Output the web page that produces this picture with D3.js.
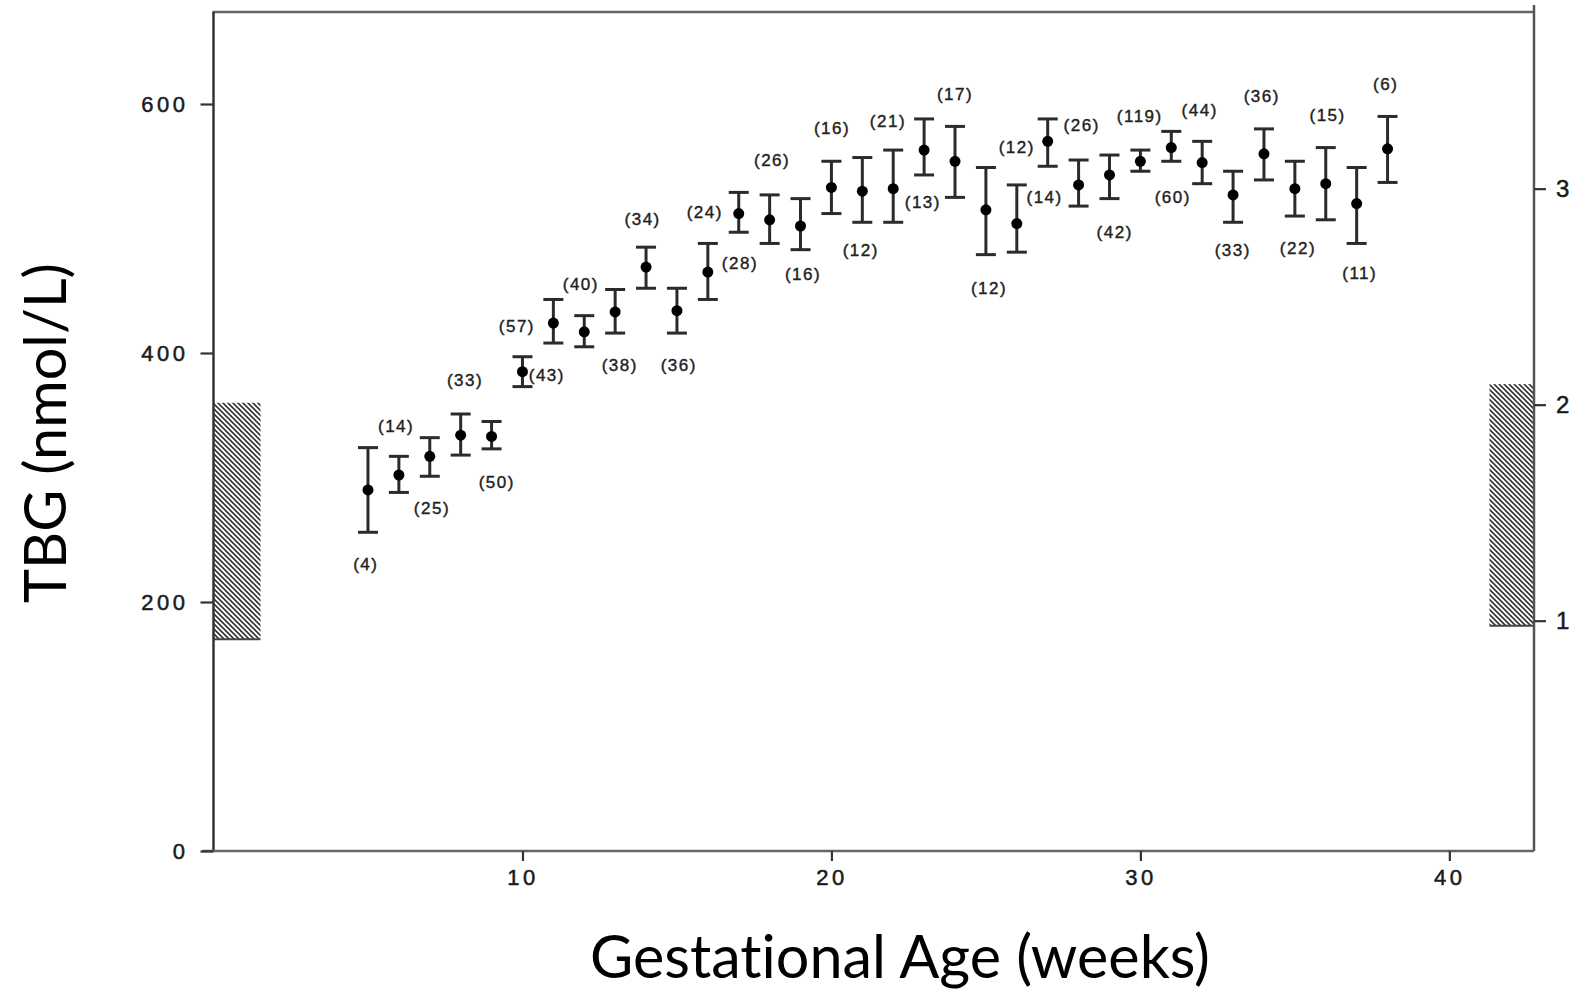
<!DOCTYPE html>
<html>
<head>
<meta charset="utf-8">
<script src="https://cdn.jsdelivr.net/npm/d3@7"></script>
<style>
  html, body { margin: 0; padding: 0; background: #fff; }
  svg { display: block; }
  text { font-variant-ligatures: none; font-feature-settings: "liga" 0; }
</style>
</head>
<body>
<svg id="chart" width="1575" height="991"></svg>
<script>
// ---- data ----
const weeks = [5, 6, 7, 8, 9, 10, 11, 12, 13, 14, 15, 16, 17, 18, 19, 20, 21, 22,
               23, 24, 25, 26, 27, 28, 29, 30, 31, 32, 33, 34, 35, 36, 37, 38];
const means = [290, 302, 317, 334, 333, 385, 424, 417, 433, 469, 434, 465, 512, 507, 502, 533, 530, 532,
               563, 554, 515, 504, 570, 535, 543, 554, 565, 553, 527, 560, 532, 536, 520, 564];
const upper = [324, 317, 332, 351, 345, 397, 443, 430, 451, 485, 452, 488, 529, 527, 524, 554, 557, 563,
               588, 582, 549, 535, 588, 555, 559, 563, 578, 570, 546, 580, 554, 565, 549, 590];
const lower = [256, 288, 301, 318, 323, 373, 408, 405, 416, 452, 416, 443, 497, 488, 483, 512, 505, 505,
               543, 525, 479, 481, 550, 518, 524, 546, 554, 536, 505, 539, 510, 507, 488, 537];

// sample-size annotations, anchored in data units (week, nmol/L)
const labelTexts  = ["(4)", "(14)", "(25)", "(33)", "(50)", "(43)", "(57)", "(40)", "(38)", "(34)", "(36)",
                     "(28)", "(24)", "(26)", "(16)", "(16)", "(12)", "(21)", "(13)", "(17)", "(12)", "(12)",
                     "(14)", "(26)", "(42)", "(119)", "(60)", "(44)", "(33)", "(36)", "(22)", "(15)", "(11)", "(6)"];
const labelWeeks  = [4.93, 5.91, 7.07, 8.14, 9.17, 10.79, 9.82, 11.89, 13.15, 13.89, 15.06,
                     17.04, 15.9, 18.08, 19.08, 20.02, 20.95, 21.83, 22.96, 24.0, 25.1, 26.0,
                     26.9, 28.1, 29.17, 29.98, 31.05, 31.92, 32.99, 33.93, 35.1, 36.06, 37.1, 37.94];
const labelValues = [230, 341, 275, 378, 296, 382, 421, 455, 390, 507, 390,
                     472, 513, 555, 463, 580, 482, 586, 521, 608, 452, 565,
                     525, 583, 497, 590, 525, 595, 482, 606, 484, 591, 464, 616];

const yTicks = [0, 200, 400, 600];
const xTicks = [10, 20, 30, 40];
const rightTicks = [1, 2, 3];
const rightTickNmol = [185, 532];      // nmol/L equivalent of right-axis 1 and 3
const refLow  = [170, 181];            // hatched reference ranges (non-pregnant), left and right
const refHigh = [360, 375];

const xTitle = "Gestational Age (weeks)";
const yTitle = "TBG (nmol/L)";

// ---- layout ----
const svg = d3.select("#chart");
const x = d3.scaleLinear().domain([0, 42.74]).range([213.5, 1534]);
const y = d3.scaleLinear().domain([0, 600]).range([851, 104]);
const yR = d3.scaleLinear().domain([1, 3]).range([y(rightTickNmol[0]), y(rightTickNmol[1])]);
const frameTop = 12;
const tickFont = "'Liberation Sans', Arial, sans-serif";
const ink = "#1a1a1a";

// hatch pattern
const defs = svg.append("defs");
const pat = defs.append("pattern")
  .attr("id", "hatch").attr("patternUnits", "userSpaceOnUse")
  .attr("width", 5).attr("height", 5);
pat.append("rect").attr("width", 5).attr("height", 5).attr("fill", "#fff");
pat.append("path").attr("d", "M0,0 L5,5 M-1,4 L1,6 M4,-1 L6,1")
  .attr("stroke", "#333").attr("stroke-width", 1.6);

// hatched reference bands
const bandX = [[0, 1.52], [41.3, 42.74]];
svg.selectAll("rect.band").data(refLow).join("rect")
  .attr("class", "band")
  .attr("x", (d, i) => x(bandX[i][0]))
  .attr("width", (d, i) => x(bandX[i][1]) - x(bandX[i][0]))
  .attr("y", (d, i) => y(refHigh[i]))
  .attr("height", (d, i) => y(refLow[i]) - y(refHigh[i]))
  .attr("fill", "url(#hatch)");
svg.selectAll("line.bandBase").data(refLow).join("line")
  .attr("x1", (d, i) => x(bandX[i][0])).attr("x2", (d, i) => x(bandX[i][1]))
  .attr("y1", d => y(d)).attr("y2", d => y(d))
  .attr("stroke", "#444").attr("stroke-width", 2);

// frame
svg.append("line").attr("x1", x(0) - 1).attr("x2", x.range()[1])
  .attr("y1", frameTop).attr("y2", frameTop)
  .attr("stroke", "#666").attr("stroke-width", 2.5);
svg.append("line").attr("x1", x.range()[1]).attr("x2", x.range()[1])
  .attr("y1", 5).attr("y2", y(0))
  .attr("stroke", "#555").attr("stroke-width", 2.5);
svg.append("line").attr("x1", x(0)).attr("x2", x(0))
  .attr("y1", frameTop).attr("y2", y(0))
  .attr("stroke", "#333").attr("stroke-width", 2.5);
svg.append("line").attr("x1", x(0) - 11).attr("x2", x.range()[1])
  .attr("y1", y(0)).attr("y2", y(0))
  .attr("stroke", "#666").attr("stroke-width", 2.5);

// axes
const gL = svg.append("g").attr("transform", `translate(${x(0)},0)`)
  .call(d3.axisLeft(y).tickValues(yTicks).tickSize(13).tickPadding(12).tickFormat(d3.format("d")));
const gB = svg.append("g").attr("transform", `translate(0,${y(0)})`)
  .call(d3.axisBottom(x).tickValues(xTicks).tickSize(10).tickPadding(8).tickFormat(d3.format("d")));
const gR = svg.append("g").attr("transform", `translate(${x.range()[1]},0)`)
  .call(d3.axisRight(yR).tickValues(rightTicks).tickSize(12).tickPadding(10).tickFormat(d3.format("d")));
[gL, gB, gR].forEach(g => {
  g.select(".domain").remove();
  g.selectAll(".tick line").attr("stroke", "#333").attr("stroke-width", 2.2);
  g.selectAll(".tick text").attr("fill", ink)
    .attr("stroke", ink).attr("stroke-width", 0.5)
    .style("font-family", tickFont).style("font-size", "22px").style("letter-spacing", "3.5px");
});
gR.selectAll(".tick text").style("font-size", "24px");

// error bars
const capW = 10;
const bars = svg.append("g");
bars.selectAll("line.v").data(weeks).join("line")
  .attr("x1", d => x(d)).attr("x2", d => x(d))
  .attr("y1", (d, i) => y(upper[i])).attr("y2", (d, i) => y(lower[i]))
  .attr("stroke", "#2b2b2b").attr("stroke-width", 3);
bars.selectAll("line.cu").data(weeks).join("line")
  .attr("x1", d => x(d) - capW).attr("x2", d => x(d) + capW)
  .attr("y1", (d, i) => y(upper[i])).attr("y2", (d, i) => y(upper[i]))
  .attr("stroke", "#2b2b2b").attr("stroke-width", 3);
bars.selectAll("line.cl").data(weeks).join("line")
  .attr("x1", d => x(d) - capW).attr("x2", d => x(d) + capW)
  .attr("y1", (d, i) => y(lower[i])).attr("y2", (d, i) => y(lower[i]))
  .attr("stroke", "#2b2b2b").attr("stroke-width", 3);
bars.selectAll("circle").data(weeks).join("circle")
  .attr("cx", d => x(d)).attr("cy", (d, i) => y(means[i])).attr("r", 5.5)
  .attr("fill", "#000");

// sample size labels
svg.append("g").selectAll("text").data(labelTexts).join("text")
  .attr("x", (d, i) => x(labelWeeks[i]))
  .attr("y", (d, i) => y(labelValues[i]))
  .attr("text-anchor", "middle").attr("dominant-baseline", "central")
  .style("font-family", tickFont).style("font-size", "17px").style("letter-spacing", "1.5px")
  .attr("fill", "#222").attr("stroke", "#222").attr("stroke-width", 0.4)
  .text(d => d);

// axis titles, sized to the reference's text extent
const titleFont = "Lato, 'Open Sans', sans-serif";
function fitText(sel, target) {
  sel.style("font-size", "50px");
  const w = sel.node().getComputedTextLength();
  sel.style("font-size", (50 * target / w).toFixed(2) + "px");
}
const xt = svg.append("text").attr("x", 900).attr("y", 978)
  .attr("text-anchor", "middle").style("font-family", titleFont).attr("fill", "#000").text(xTitle);
fitText(xt, 620);
const yt = svg.append("text").attr("transform", "translate(66,433) rotate(-90)")
  .attr("text-anchor", "middle").style("font-family", titleFont).attr("fill", "#000").text(yTitle);
fitText(yt, 340);
</script>
</body>
</html>
